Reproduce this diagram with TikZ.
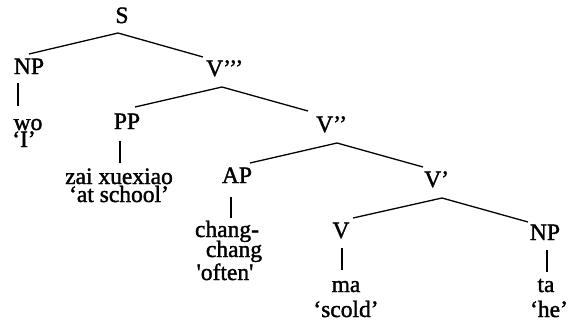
\documentclass[tikz,border=0pt]{standalone}
\usepackage{fontspec}
\setmainfont{Liberation Serif}[Ligatures=TeXOff,FakeBold=1.5]
\begin{document}
\begin{tikzpicture}[x=1pt,y=-1pt,
  lbl/.style={inner sep=0pt,anchor=base,font=\fontsize{23.5}{26}\selectfont},
  lblw/.style={lbl,anchor=base west},
  branch/.style={line width=1.3pt}]
\useasboundingbox (0,0) rectangle (571,322);
% labels
\node[lbl] (S) at (122,23) {S};
\node[lbl] (NPa) at (29,74) {NP};
\node[lblw] (V3) at (206,76) {V’’’};
\node[lbl] (wo) at (28,130) {wo};
\node[lbl] (I) at (24,147) {‘I’};
\node[lbl] (PP) at (127,129) {PP};
\node[lblw] (V2) at (316,132) {V’’};
\node[lbl] (zai) at (119,184) {zai xuexiao};
\node[lbl] (school) at (119,202) {‘at school’};
\node[lbl] (AP) at (237,183) {AP};
\node[lblw] (V1) at (424,187) {V’};
\node[lbl] (chang1) at (227,237) {chang-};
\node[lbl] (chang2) at (234,257) {chang};
\node[lbl] (often) at (225,280) {'often'};
\node[lbl] (V) at (341,238) {V};
\node[lbl] (NPb) at (545,240) {NP};
\node[lbl] (ma) at (346,292) {ma};
\node[lbl] (scold) at (346,317) {‘scold’};
\node[lbl] (ta) at (546,292) {ta};
\node[lbl] (he) at (549,317) {‘he’};
% branch points
\coordinate (S-b) at (118,33);
\coordinate (NPa-t) at (29,54);
\coordinate (V3-t) at (203,57);
\coordinate (V3-b) at (222,87);
\coordinate (PP-t) at (135,107);
\coordinate (V2-t) at (308,111);
\coordinate (V2-b) at (337,143);
\coordinate (AP-t) at (250,163);
\coordinate (V1-t) at (423,167);
\coordinate (V1-b) at (442,198);
\coordinate (V-t) at (353,218);
\coordinate (NPb-t) at (528,222);
\coordinate (NPa-b1) at (18,83);
\coordinate (NPa-b2) at (18,106);
\coordinate (PP-b1) at (120,141);
\coordinate (PP-b2) at (120,163);
\coordinate (AP-b1) at (231,197);
\coordinate (AP-b2) at (231,218);
\coordinate (V-b1) at (342,248);
\coordinate (V-b2) at (342,270);
\coordinate (NPb-b1) at (547,250);
\coordinate (NPb-b2) at (547,272);
% branches
\draw[branch] (NPa-t) -- (S-b) -- (V3-t);
\draw[branch] (PP-t) -- (V3-b) -- (V2-t);
\draw[branch] (AP-t) -- (V2-b) -- (V1-t);
\draw[branch] (V-t) -- (V1-b) -- (NPb-t);
\draw[branch] (NPa-b1) -- (NPa-b2);
\draw[branch] (PP-b1) -- (PP-b2);
\draw[branch] (AP-b1) -- (AP-b2);
\draw[branch] (V-b1) -- (V-b2);
\draw[branch] (NPb-b1) -- (NPb-b2);
\end{tikzpicture}
\end{document}
